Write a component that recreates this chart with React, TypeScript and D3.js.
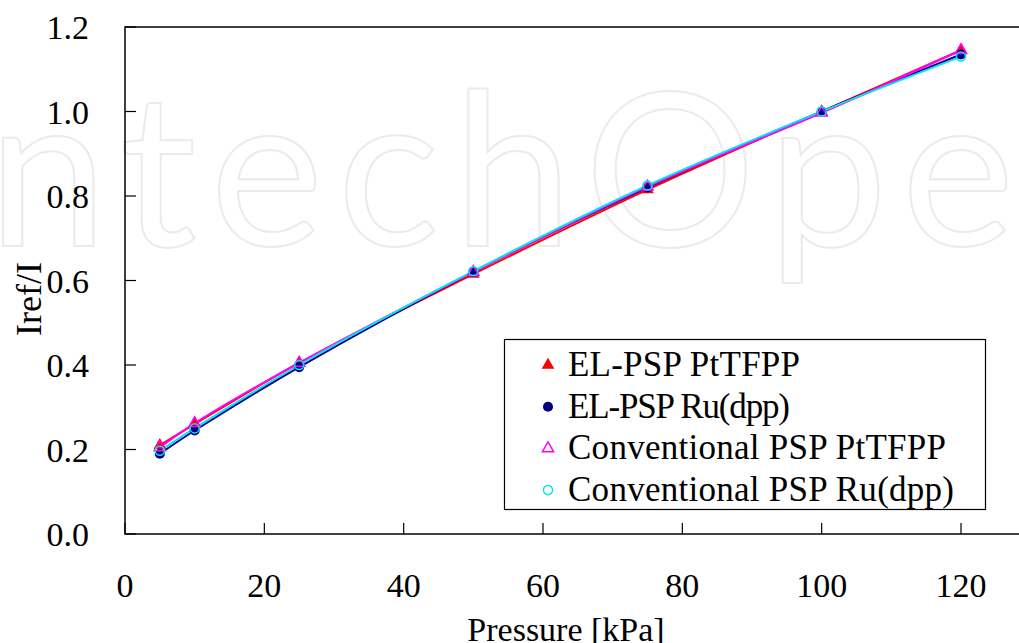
import React, { useRef, useEffect } from "react";
import * as d3 from "d3";

const pressures = [5, 10, 25, 50, 75, 100, 120];
const elPtTFPP = [0.21, 0.26, 0.405, 0.615, 0.815, 1.0, 1.145];
const elRuDpp = [0.19, 0.245, 0.395, 0.62, 0.82, 1.0, 1.135];
const convPtTFPP = [0.205, 0.262, 0.405, 0.62, 0.822, 0.997, 1.145];
const convRuDpp = [0.197, 0.25, 0.4, 0.622, 0.825, 1.0, 1.13];
const xTicks = [0, 20, 40, 60, 80, 100, 120];
const yTicks = [0, 0.2, 0.4, 0.6, 0.8, 1.0, 1.2];

const seriesList = [
  { name: "EL-PSP PtTFPP", values: elPtTFPP, color: "#ff0000", marker: "triangle", filled: true },
  { name: "EL-PSP Ru(dpp)", values: elRuDpp, color: "#000080", marker: "circle", filled: true },
  { name: "Conventional PSP PtTFPP", values: convPtTFPP, color: "#ff00ff", marker: "triangle", filled: false },
  { name: "Conventional PSP Ru(dpp)", values: convRuDpp, color: "#00e5ee", marker: "circle", filled: false },
];

const width = 1019;
const height = 643;
const font = "'Liberation Serif', 'Times New Roman', serif";

export default function App() {
  const svgRef = useRef<SVGSVGElement>(null);

  useEffect(() => {
    if (!svgRef.current) return;
    const svg = d3.select(svgRef.current);
    svg.selectAll("*").remove();

    const plot = { left: 125, top: 27, bottom: 534, right: 1032 };

    const xScale = d3.scaleLinear().domain([0, 120]).range([125, 961]);
    const yScale = d3.scaleLinear().domain([0, 1.2]).range([plot.bottom, plot.top]);

    // watermark
    svg
      .append("text")
      .attr("x", -12)
      .attr("y", 246)
      .attr("font-family", "Lato, 'Open Sans', sans-serif")
      .attr("font-size", 214)
      .attr("textLength", 1160)
      .attr("fill", "none")
      .attr("stroke", "#ebebeb")
      .attr("stroke-width", 2)
      .text("ntechOpen");

    // frame
    svg
      .append("rect")
      .attr("x", plot.left)
      .attr("y", plot.top)
      .attr("width", plot.right - plot.left)
      .attr("height", plot.bottom - plot.top)
      .attr("fill", "none")
      .attr("stroke", "#000")
      .attr("stroke-width", 1.5);

    // y ticks
    const yAxis = svg.append("g");
    yTicks.forEach((t) => {
      yAxis
        .append("line")
        .attr("x1", plot.left)
        .attr("x2", plot.left + 11)
        .attr("y1", yScale(t))
        .attr("y2", yScale(t))
        .attr("stroke", "#000")
        .attr("stroke-width", 1.2);
      yAxis
        .append("text")
        .attr("x", 89)
        .attr("y", yScale(t) + 12)
        .attr("text-anchor", "end")
        .attr("font-family", font)
        .attr("font-size", 34)
        .text(d3.format(".1f")(t));
    });

    // x ticks
    const xAxis = svg.append("g");
    xTicks.forEach((t) => {
      xAxis
        .append("line")
        .attr("x1", xScale(t))
        .attr("x2", xScale(t))
        .attr("y1", plot.bottom)
        .attr("y2", plot.bottom - 11)
        .attr("stroke", "#000")
        .attr("stroke-width", 1.2);
      xAxis
        .append("text")
        .attr("x", xScale(t))
        .attr("y", 597)
        .attr("text-anchor", "middle")
        .attr("font-family", font)
        .attr("font-size", 34)
        .text(t);
    });

    // axis titles
    svg
      .append("text")
      .attr("x", 566)
      .attr("y", 641)
      .attr("text-anchor", "middle")
      .attr("font-family", font)
      .attr("font-size", 34)
      .text("Pressure [kPa]");

    svg
      .append("text")
      .attr("transform", "translate(41,299) rotate(-90)")
      .attr("text-anchor", "middle")
      .attr("font-family", font)
      .attr("font-size", 36)
      .text("Iref/I");

    const line = d3
      .line<number>()
      .x((_, i) => xScale(pressures[i]))
      .y((d) => yScale(d))
      .curve(d3.curveCatmullRom);

    const triangle = d3.symbol().type(d3.symbolTriangle);
    const circle = d3.symbol().type(d3.symbolCircle);

    const drawMarker = (g: any, s: any, cx: number, cy: number) => {
      const gen = s.marker === "triangle" ? triangle.size(s.filled ? 70 : 55) : circle.size(s.filled ? 80 : 65);
      g.append("path")
        .attr("d", gen())
        .attr("transform", `translate(${cx},${cy})`)
        .attr("fill", s.filled ? s.color : "none")
        .attr("stroke", s.color)
        .attr("stroke-width", s.filled ? 0 : 1.5);
    };

    // lines
    seriesList.forEach((s) => {
      svg
        .append("path")
        .datum(s.values)
        .attr("fill", "none")
        .attr("stroke", s.color)
        .attr("stroke-width", 2)
        .attr("d", line);
    });

    // markers
    seriesList.forEach((s) => {
      const g = svg.append("g");
      s.values.forEach((v, i) => drawMarker(g, s, xScale(pressures[i]), yScale(v)));
    });

    // legend
    const legend = svg.append("g");
    legend
      .append("rect")
      .attr("x", 504.5)
      .attr("y", 339.5)
      .attr("width", 481)
      .attr("height", 170)
      .attr("fill", "#fff")
      .attr("stroke", "#000")
      .attr("stroke-width", 1.2);
    seriesList.forEach((s, i) => {
      const baseline = 376 + i * 41.7;
      drawMarker(legend, s, 548, baseline - 11);
      legend
        .append("text")
        .attr("x", 568)
        .attr("y", baseline)
        .attr("font-family", font)
        .attr("font-size", 35)
        .attr("textLength", [232, 222, 378, 386][i])
        .text(s.name);
    });
  }, []);

  return (
    <svg
      ref={svgRef}
      width={width}
      height={height}
      style={{ position: "absolute", left: 0, top: 0, background: "#fff" }}
    ></svg>
  );
}
